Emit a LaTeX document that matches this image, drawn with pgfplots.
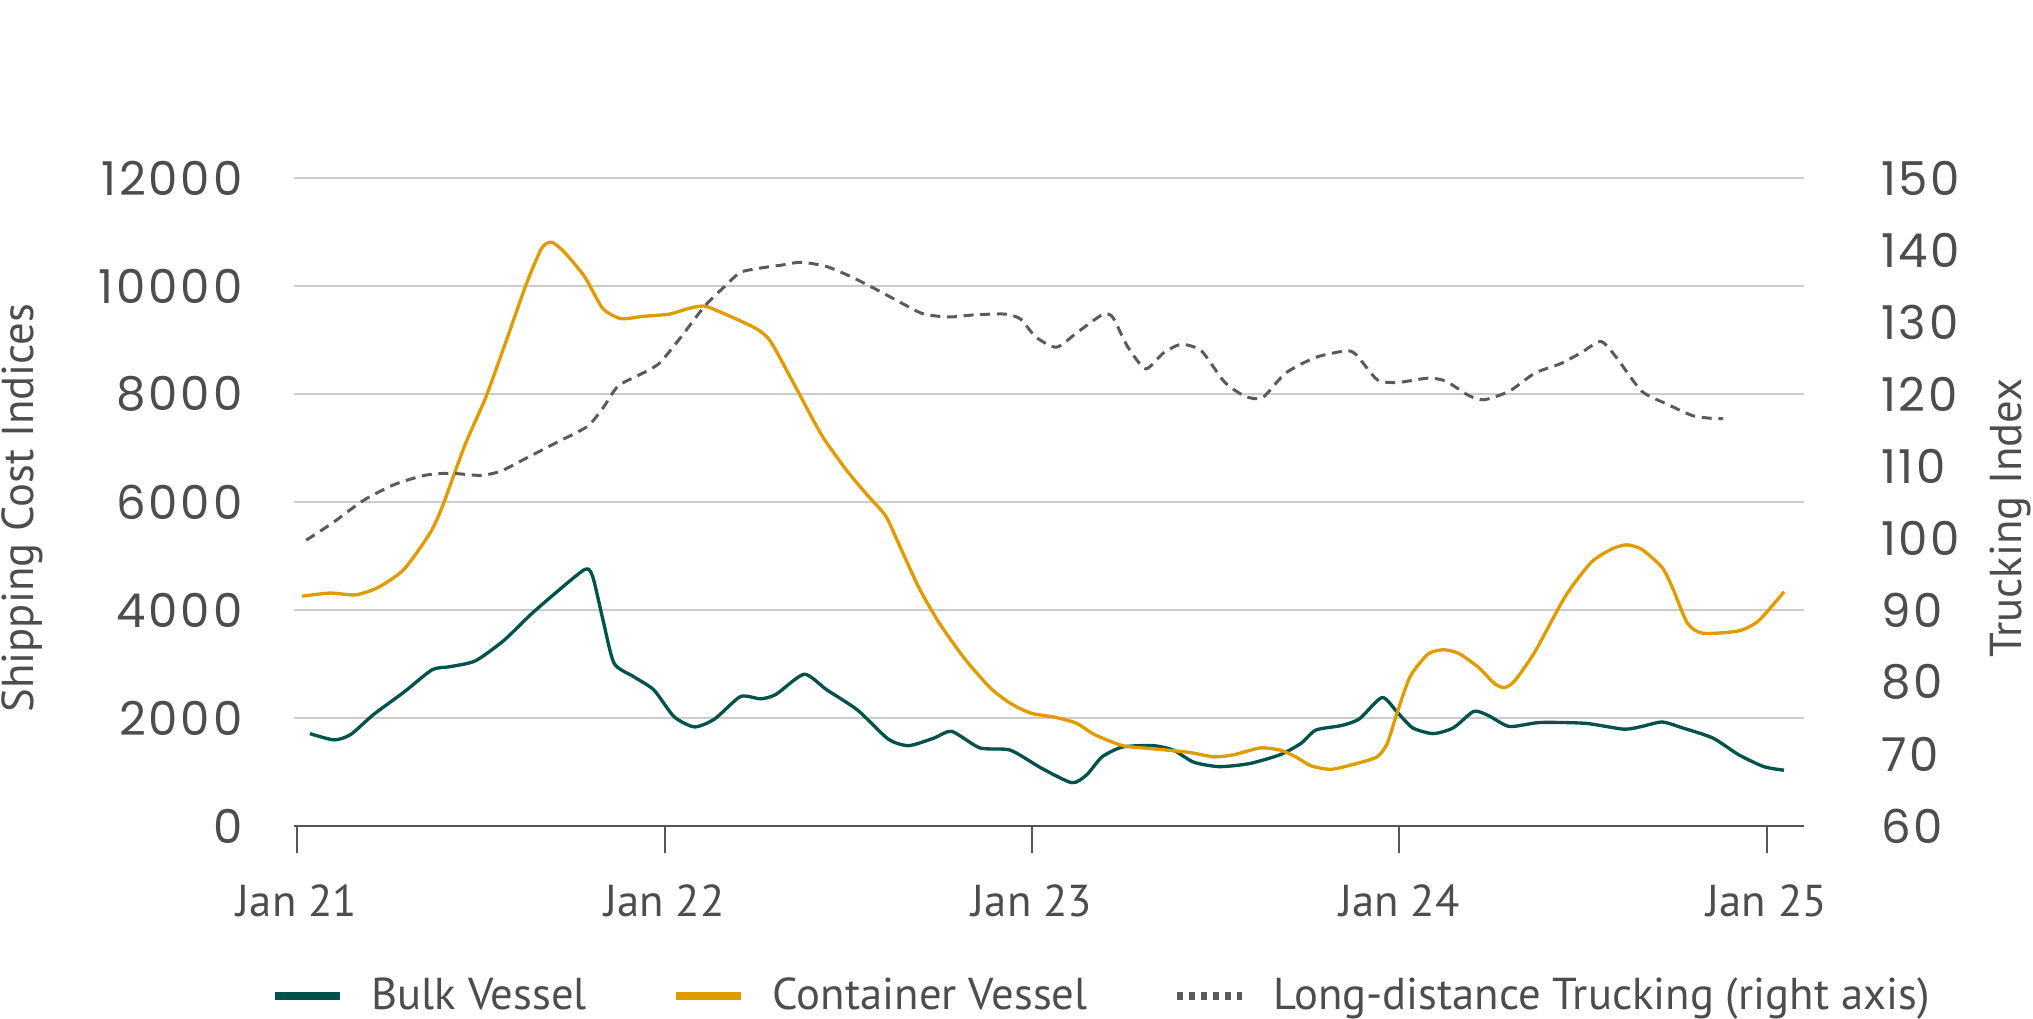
\documentclass[border=0pt]{standalone}
\usepackage{pgfplots}
\pgfplotsset{compat=1.18}
\usepackage{fontspec}
\setmainfont{PT Sans}
\newfontfamily\numfont[LetterSpace=6]{Poppins}
\definecolor{bulk}{HTML}{00524B}
\definecolor{cont}{HTML}{E09B00}
\definecolor{truck}{HTML}{5A5A5A}
\definecolor{txt}{HTML}{4D4D4D}
\definecolor{gridc}{HTML}{CCCCCC}
\definecolor{axisc}{HTML}{555555}
\newcommand{\bigfs}{\fontsize{14pt}{16pt}\selectfont}
\newcommand{\txtfs}{\fontsize{13.4pt}{16pt}\selectfont}
\begin{document}
\begin{tikzpicture}
\path[use as bounding box] (-88.2pt,-57.6pt) rectangle (521.7pt,247.8pt);
\begin{axis}[
  scale only axis, width=452.9pt, height=194.4pt,
  xmin=-0.1, xmax=49.2, ymin=0, ymax=12000,
  axis x line*=bottom, axis y line*=left,
  y axis line style={draw=none},
  x axis line style={draw=axisc, line width=0.6pt, -},
  xtick={0,12,24,36,48},
  xticklabels={Jan 21,Jan 22,Jan 23,Jan 24,Jan 25},
  tick align=outside, major tick length=8pt,
  xtick style={draw=axisc, line width=0.6pt},
  ytick={0,2000,...,12000}, ytick style={draw=none},
  ymajorgrids, grid style={draw=gridc, line width=0.6pt},
  scaled y ticks=false,
  /pgf/number format/assume math mode=true,
  /pgf/number format/1000 sep={},
  y tick label style={font=\numfont\bigfs, text=txt, anchor=east, inner sep=0pt, xshift=-7.3pt},
  x tick label style={font=\txtfs, text=txt, anchor=north, inner sep=0pt, yshift=-9.3pt},
  ylabel={Shipping Cost Indices},
  ylabel style={at={(rel axis cs:-0.1941,0.4907)}, anchor=north, inner sep=0pt, font=\txtfs, text=txt},
]
\addplot[bulk, line width=1pt, smooth, tension=0.4] coordinates {
(0.42,1711)(1.21,1595)(1.75,1694)(2.50,2066)(3.49,2479)(4.41,2893)(4.99,2950)(5.82,3058)(6.74,3430)(7.65,3926)(8.49,4339)(9.40,4752)(9.65,4628)(9.98,3843)(10.35,3017)(10.98,2769)(11.65,2521)(12.31,2025)(12.98,1835)(13.64,1983)(14.48,2397)(15.14,2355)(15.64,2438)(16.56,2810)(17.30,2521)(18.30,2149)(19.30,1612)(19.97,1488)(20.80,1628)(21.38,1752)(22.30,1446)(23.29,1405)(24.30,1074)(25.30,802)(25.79,950)(26.29,1281)(26.96,1463)(27.96,1488)(28.62,1405)(29.28,1182)(30.12,1099)(31.11,1157)(32.11,1322)(32.78,1529)(33.27,1777)(34.10,1860)(34.69,1983)(35.43,2380)(35.93,2107)(36.43,1818)(37.10,1711)(37.76,1818)(38.43,2124)(38.92,2041)(39.59,1843)(40.59,1917)(42.08,1901)(43.33,1793)(43.91,1843)(44.58,1926)(45.24,1818)(46.24,1628)(47.07,1322)(47.90,1099)(48.56,1033)
};
\addplot[cont, line width=1pt, smooth, tension=0.4] coordinates {
(0.17,4256)(1.08,4314)(1.91,4281)(2.66,4421)(3.49,4752)(4.33,5413)(4.74,5909)(5.49,7066)(6.16,7934)(6.82,8967)(7.49,10041)(7.99,10702)(8.32,10810)(8.74,10620)(9.40,10165)(9.98,9587)(10.57,9397)(11.31,9438)(12.15,9479)(12.81,9587)(13.31,9628)(13.98,9479)(14.98,9215)(15.47,8967)(16.31,8099)(17.14,7231)(17.97,6570)(18.64,6116)(19.22,5744)(19.63,5248)(20.30,4421)(20.97,3760)(21.80,3099)(22.63,2562)(23.29,2273)(23.96,2091)(24.80,2008)(25.46,1901)(26.04,1694)(26.96,1488)(27.96,1430)(29.12,1364)(29.95,1281)(30.61,1322)(31.45,1446)(32.11,1405)(32.61,1281)(33.11,1116)(33.77,1050)(34.60,1157)(35.27,1281)(35.60,1529)(35.93,2107)(36.35,2769)(36.93,3182)(37.43,3264)(37.93,3198)(38.59,2934)(39.09,2645)(39.42,2562)(39.76,2686)(40.42,3223)(41.42,4256)(42.25,4876)(42.91,5124)(43.41,5207)(43.91,5124)(44.57,4793)(44.91,4421)(45.40,3760)(45.90,3570)(47.07,3612)(47.73,3802)(48.56,4339)
};
\end{axis}
\begin{axis}[
  scale only axis, width=452.9pt, height=194.4pt,
  xmin=-0.1, xmax=49.2, ymin=60, ymax=150,
  axis y line*=right, hide x axis,
  y axis line style={draw=none},
  ytick={60,70,...,150}, ytick style={draw=none},
  /pgf/number format/assume math mode=true,
  y tick label style={font=\numfont\bigfs, text=txt, anchor=west, inner sep=0pt, xshift=23pt},
  ylabel={Trucking Index},
  ylabel style={at={(rel axis cs:1.1228,0.475)}, anchor=north, inner sep=0pt, font=\txtfs, text=txt},
  legend columns=3,
  legend cell align=left,
  legend style={at={(rel axis cs:-0.0159,-0.2623)}, anchor=west, draw=none, fill=none,
    inner sep=0pt, column sep=0pt, font=\txtfs, text=txt, nodes={inner xsep=0pt},
    /tikz/every even column/.append style={column sep=25.5pt}},
  legend image code/.code={\draw[#1, line width=2.4pt] (0pt,0pt) -- (19.5pt,0pt); \path[draw=none] (0pt,0pt) -- (29.1pt,0pt);},
]
\addlegendimage{bulk}
\addlegendentry{Bulk Vessel}
\addlegendimage{cont}
\addlegendentry{Container Vessel}
\addplot[truck, line width=0.9pt, dash pattern=on 3pt off 2pt, smooth, tension=0.4,
  legend image code/.code={\draw[truck, solid, line width=2.4pt, dash pattern=on 2pt off 1.6pt] (0pt,0pt) -- (19.5pt,0pt); \path[draw=none] (0pt,0pt) -- (29.1pt,0pt);}] coordinates {
(0.30,99.7)(1.16,102.1)(2.16,105.2)(3.16,107.4)(4.16,108.7)(4.99,109.0)(5.99,108.7)(6.66,109.3)(7.49,111.1)(8.49,113.3)(9.48,115.5)(9.98,118.0)(10.48,121.1)(11.15,122.6)(11.81,124.2)(12.48,127.6)(13.31,132.2)(13.98,135.0)(14.48,136.9)(15.14,137.5)(15.81,137.9)(16.47,138.3)(17.30,137.7)(18.14,136.2)(18.97,134.4)(19.80,132.5)(20.47,131.1)(21.30,130.7)(22.13,131.0)(23.13,131.1)(23.63,130.4)(24.13,127.9)(24.80,126.5)(25.46,128.5)(26.29,131.0)(26.63,130.7)(27.12,126.6)(27.71,123.5)(28.29,125.7)(28.87,126.9)(29.53,126.0)(30.28,121.7)(30.95,119.7)(31.53,119.5)(32.28,122.9)(33.27,125.1)(34.27,126.0)(34.60,125.4)(35.27,122.0)(35.93,121.6)(36.93,122.2)(37.51,121.8)(38.26,119.8)(38.76,119.2)(39.59,120.4)(40.42,122.9)(41.25,124.2)(41.92,125.7)(42.58,127.3)(43.08,125.1)(43.91,120.4)(44.74,118.6)(45.57,117.0)(46.24,116.6)(46.57,116.6)
};
\addlegendentry{Long-distance Trucking (right axis)}
\end{axis}
\end{tikzpicture}
\end{document}
